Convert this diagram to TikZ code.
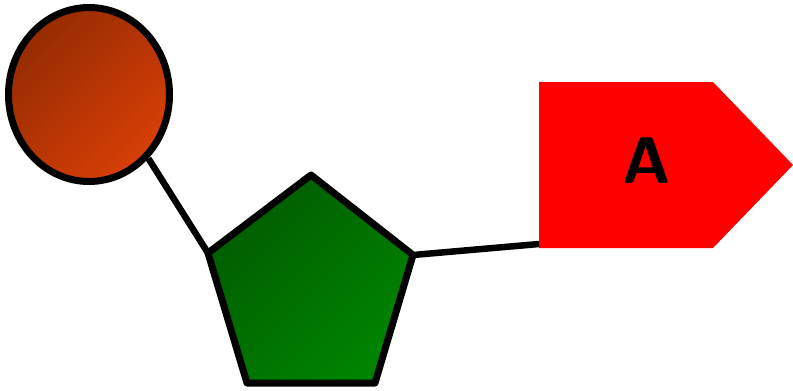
\documentclass[tikz,border=0pt]{standalone}
\usetikzlibrary{shapes.geometric}
\definecolor{phosdark}{HTML}{952B02}
\definecolor{phoslight}{HTML}{D83F06}
\definecolor{sugardark}{HTML}{005C00}
\definecolor{sugarlight}{HTML}{008400}
\definecolor{basered}{HTML}{FF0000}

\begin{document}
\begin{tikzpicture}[x=1pt,y=-1pt,
  outline/.style={draw=black,line width=7pt,line join=round},
  bond/.style={black,line width=6.5pt}]
\useasboundingbox (0,0) rectangle (793,391);
% phosphate
\node[outline,ellipse,inner sep=0pt,minimum width=161pt,minimum height=174pt,
  left color=phosdark,right color=phoslight,shading angle=45] (phos) at (89,94.5) {};
% sugar ring
\coordinate (s-top) at (311,175);
\coordinate (s-right) at (413,255);
\coordinate (s-br) at (375,383);
\coordinate (s-bl) at (247,383);
\coordinate (s-left) at (208,253);
\shade[outline,left color=sugardark,right color=sugarlight,shading angle=45]
  (s-top) -- (s-right) -- (s-br) -- (s-bl) -- (s-left) -- cycle;
% base
\coordinate (b-tl) at (539,82);
\coordinate (b-tr) at (713,82);
\coordinate (b-tip) at (793,165);
\coordinate (b-br) at (713,248);
\coordinate (b-bl) at (539,248);
\coordinate (b-in) at (539,244);
\fill[basered] (b-tl) -- (b-tr) -- (b-tip) -- (b-br) -- (b-bl) -- cycle;
\node[font=\fontsize{66}{70}\selectfont\sffamily\bfseries,anchor=base,inner sep=0pt] (base) at (647,183) {A};
% bonds
\draw[bond] (phos.south east) -- (s-left);
\draw[bond] (s-right) -- (b-in);
\end{tikzpicture}
\end{document}
